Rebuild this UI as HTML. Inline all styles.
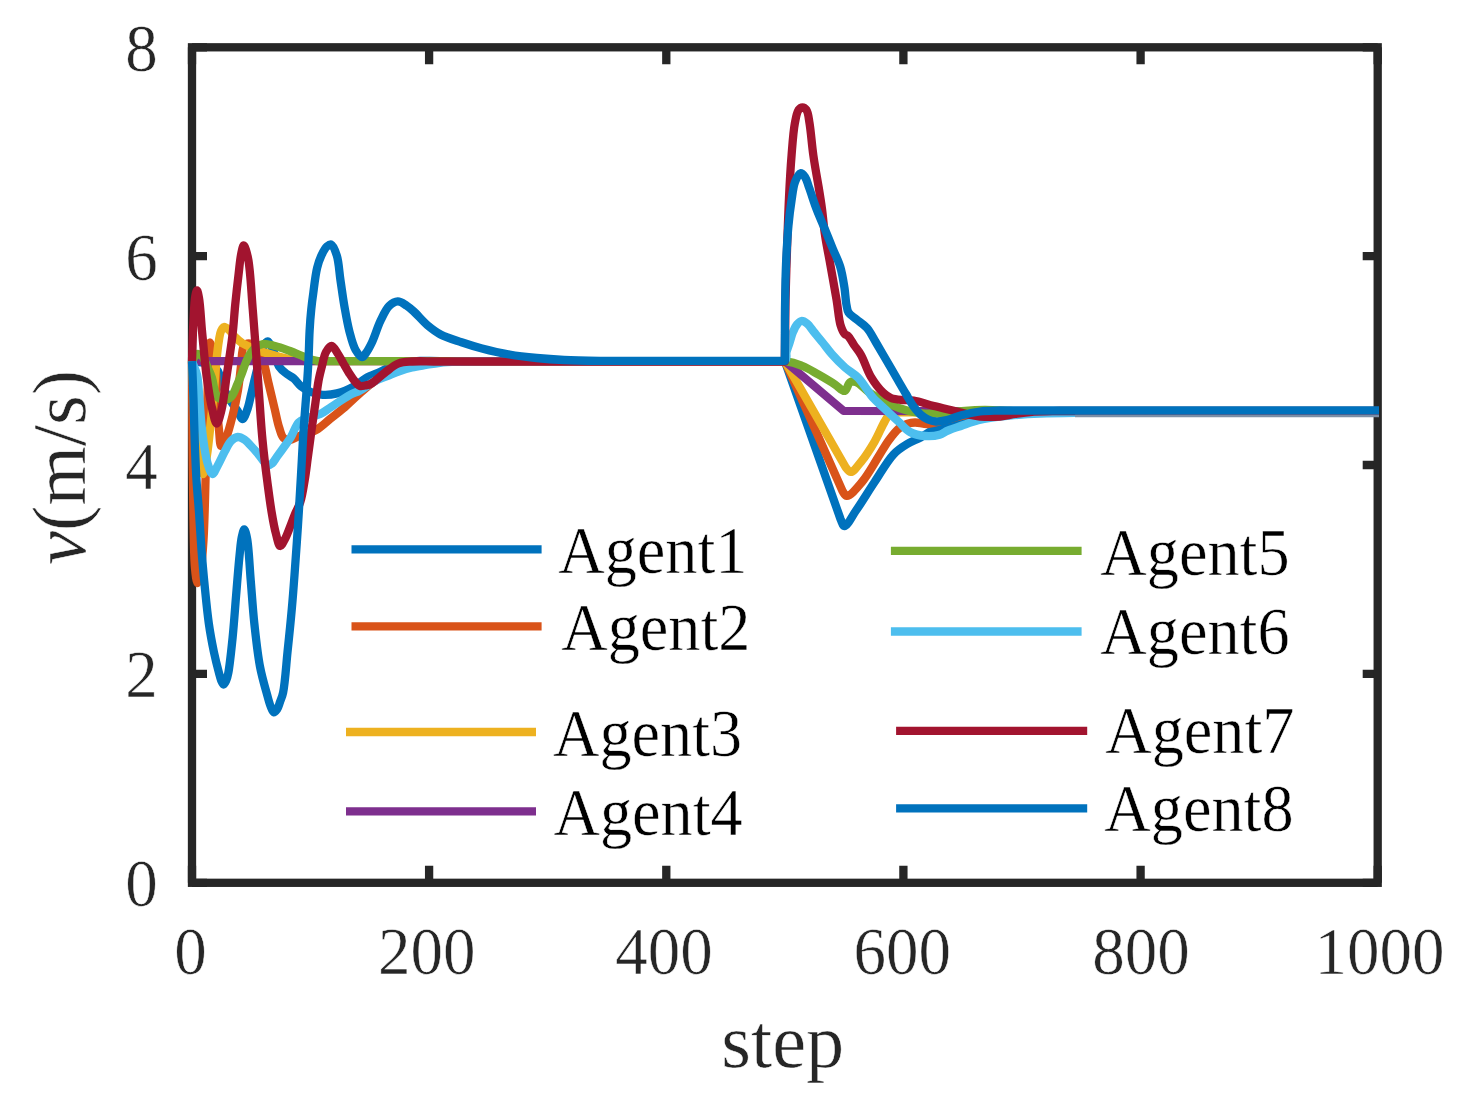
<!DOCTYPE html>
<html><head><meta charset="utf-8"><style>
html,body{margin:0;padding:0;background:#fff;overflow:hidden;}
text{stroke:#fff;stroke-width:0.5px;}
svg{display:block;}
</style></head><body>
<svg width="1463" height="1109" viewBox="0 0 1463 1109">
<rect x="0" y="0" width="1463" height="1109" fill="#ffffff"/>
<path d="M192.0,882.8 V865.8 M192.0,47.3 V64.3 M429.1,882.8 V865.8 M429.1,47.3 V64.3 M666.3,882.8 V865.8 M666.3,47.3 V64.3 M903.4,882.8 V865.8 M903.4,47.3 V64.3 M1140.6,882.8 V865.8 M1140.6,47.3 V64.3 M1377.7,882.8 V865.8 M1377.7,47.3 V64.3 M192.0,882.8 H207.0 M1377.7,882.8 H1362.7 M192.0,673.9 H207.0 M1377.7,673.9 H1362.7 M192.0,465.0 H207.0 M1377.7,465.0 H1362.7 M192.0,256.2 H207.0 M1377.7,256.2 H1362.7 M192.0,47.3 H207.0 M1377.7,47.3 H1362.7" stroke="#262626" stroke-width="8.3" fill="none"/>
<rect x="192.0" y="47.3" width="1185.7" height="835.5" fill="none" stroke="#262626" stroke-width="8.3" stroke-linejoin="miter"/>
<text transform="translate(190.6,973.5) scale(1,1.04)" text-anchor="middle" font-family="Liberation Serif" font-size="65" fill="#262626">0</text>
<text transform="translate(426.7,973.5) scale(1,1.04)" text-anchor="middle" font-family="Liberation Serif" font-size="65" fill="#262626">200</text>
<text transform="translate(664.0,973.5) scale(1,1.04)" text-anchor="middle" font-family="Liberation Serif" font-size="65" fill="#262626">400</text>
<text transform="translate(902.3,973.5) scale(1,1.04)" text-anchor="middle" font-family="Liberation Serif" font-size="65" fill="#262626">600</text>
<text transform="translate(1140.9,973.5) scale(1,1.04)" text-anchor="middle" font-family="Liberation Serif" font-size="65" fill="#262626">800</text>
<text transform="translate(1379.5,973.5) scale(1,1.04)" text-anchor="middle" font-family="Liberation Serif" font-size="65" fill="#262626">1000</text>
<text transform="translate(157.7,906.3) scale(1,1.04)" text-anchor="end" font-family="Liberation Serif" font-size="65" fill="#262626">0</text>
<text transform="translate(157.7,697.4) scale(1,1.04)" text-anchor="end" font-family="Liberation Serif" font-size="65" fill="#262626">2</text>
<text transform="translate(157.7,488.5) scale(1,1.04)" text-anchor="end" font-family="Liberation Serif" font-size="65" fill="#262626">4</text>
<text transform="translate(157.7,279.7) scale(1,1.04)" text-anchor="end" font-family="Liberation Serif" font-size="65" fill="#262626">6</text>
<text transform="translate(157.7,70.8) scale(1,1.04)" text-anchor="end" font-family="Liberation Serif" font-size="65" fill="#262626">8</text>
<text transform="translate(721.3,1066.9)" font-family="Liberation Serif" font-size="76.3" fill="#262626">step</text>
<text transform="translate(84.8,564.8) rotate(-90)" font-family="Liberation Serif" font-size="76.3" fill="#262626"><tspan font-style="italic">v</tspan>(m/s)</text>
<path d="M192.0,361.1 C196.3,361.7 201.2,362.0 205.0,363.0 C208.0,363.8 210.8,364.6 213.0,366.0 C215.0,367.3 216.7,368.8 218.0,371.0 C219.8,374.0 220.3,379.2 221.7,383.0 C223.0,386.5 224.5,390.0 226.0,393.0 C227.3,395.6 228.4,397.5 230.0,400.0 C232.0,403.2 235.2,407.2 237.4,410.5 C239.3,413.5 241.0,419.1 242.6,419.0 C244.3,418.9 246.2,412.7 247.5,409.0 C249.0,404.8 249.9,399.8 251.0,395.0 C252.2,390.1 253.2,385.2 254.5,380.0 C255.9,374.3 257.5,367.7 259.0,362.0 C260.4,356.8 261.1,350.6 263.0,347.0 C264.3,344.5 266.0,341.4 267.5,341.5 C269.3,341.6 271.3,346.6 273.0,350.0 C275.3,354.6 276.6,362.8 279.4,367.0 C281.5,370.2 284.4,372.0 287.0,374.0 C289.3,375.8 291.8,376.8 294.0,378.7 C296.5,380.8 298.3,384.0 301.0,386.2 C303.9,388.5 307.4,390.6 311.0,392.0 C314.6,393.5 318.6,394.5 322.7,394.8 C327.2,395.1 332.1,394.6 337.0,393.4 C342.6,392.0 349.4,389.0 354.5,386.2 C358.9,383.8 361.8,380.4 366.0,378.0 C370.4,375.5 375.9,373.8 380.4,371.7 C384.5,369.8 388.2,367.5 392.0,366.0 C395.4,364.7 398.1,363.8 402.0,363.0 C407.1,362.0 413.8,361.3 420.0,361.0 C426.5,360.7 429.3,361.1 440.0,361.1 L784.8,361.1 L840.5,519.0 C842.3,523.1 842.6,526.1 844.4,526.2 C847.1,526.4 851.6,517.0 855.7,511.0 C861.3,503.0 868.2,491.5 874.6,482.0 C880.9,472.6 887.3,460.9 893.6,454.3 C898.0,449.7 902.2,447.1 906.8,444.3 C911.2,441.6 916.1,439.9 920.5,437.5 C924.8,435.1 928.8,432.3 933.0,430.0 C937.0,427.8 940.7,425.8 945.0,424.0 C949.7,422.1 954.6,420.4 960.0,419.0 C966.1,417.4 972.6,416.0 980.0,415.0 C989.0,413.8 999.3,413.5 1010.0,413.0 C1022.4,412.5 1030.2,412.5 1050.0,412.3 L1379.0,412.3" stroke="#0072BD" stroke-width="8.3" fill="none" stroke-linejoin="round" stroke-linecap="butt"/>
<path d="M192.0,361.1 C192.2,387.4 192.3,413.6 192.5,440.0 C192.8,466.6 193.0,496.7 193.5,520.0 C193.9,538.0 193.9,556.6 195.0,568.0 C195.6,574.4 196.5,582.9 197.5,583.0 C198.4,583.0 199.7,576.7 200.5,572.0 C201.9,564.2 202.8,551.3 203.5,540.0 C204.3,527.4 204.6,513.3 205.0,500.0 C205.4,486.7 205.6,474.9 206.0,460.0 C206.5,441.0 206.8,415.5 207.5,395.0 C208.2,376.6 207.9,342.8 210.0,342.5 C210.9,342.4 212.6,348.2 213.5,352.0 C214.8,357.4 215.4,364.6 216.0,372.0 C216.7,381.2 216.3,393.0 216.8,403.0 C217.3,412.3 218.1,422.2 219.0,430.0 C219.7,436.0 219.7,445.7 221.2,446.0 C222.3,446.2 224.5,441.4 226.0,438.0 C228.4,432.6 230.6,423.7 232.5,416.0 C234.6,407.7 236.6,398.5 238.0,390.0 C239.4,381.9 240.0,373.6 241.0,366.0 C242.0,359.0 241.4,349.4 244.0,346.0 C245.5,344.1 248.1,343.1 250.0,343.5 C252.2,344.0 254.0,347.5 256.0,350.0 C258.3,352.9 260.8,355.8 262.7,360.0 C265.3,365.9 266.6,375.1 268.5,383.0 C270.5,391.3 272.7,400.8 274.6,408.6 C276.2,415.2 277.3,421.7 279.0,427.0 C280.4,431.2 281.2,435.9 283.5,438.0 C285.2,439.6 287.7,440.1 290.0,440.0 C292.8,439.8 295.5,437.4 299.0,436.0 C303.7,434.1 310.8,432.8 316.0,430.0 C321.1,427.2 325.3,422.8 330.0,419.0 C334.9,415.1 340.3,411.0 345.0,407.0 C349.3,403.3 352.7,399.8 357.0,396.0 C361.7,391.8 366.8,386.7 372.0,383.0 C376.9,379.5 382.1,376.4 387.0,374.0 C391.4,371.9 395.7,370.4 400.0,369.0 C404.1,367.6 407.6,366.5 412.0,365.5 C417.4,364.3 423.2,363.2 430.0,362.5 C438.7,361.6 444.7,361.5 460.0,361.1 L784.8,361.1 L842.5,491.0 C844.4,494.0 844.9,495.8 846.9,495.9 C850.4,496.1 857.2,487.7 862.0,482.0 C867.8,475.1 873.6,464.4 878.4,456.8 C882.3,450.6 885.3,445.0 889.0,440.0 C892.2,435.7 895.5,431.3 898.9,428.5 C901.5,426.3 904.2,425.0 907.0,424.0 C909.6,423.1 912.0,422.6 915.0,422.5 C918.7,422.4 923.2,424.2 927.7,424.0 C933.0,423.7 939.0,421.4 945.0,420.0 C951.4,418.5 957.9,416.6 965.0,415.5 C972.8,414.2 981.3,413.5 990.0,413.0 C999.5,412.4 1004.5,412.5 1020.0,412.3 L1379.0,412.3" stroke="#D95319" stroke-width="8.3" fill="none" stroke-linejoin="round" stroke-linecap="butt"/>
<path d="M192.0,361.1 C193.0,380.7 193.7,402.0 195.0,420.0 C196.1,435.2 197.0,452.3 199.0,462.0 C200.1,467.3 201.8,474.1 203.0,474.0 C204.5,473.9 205.8,462.3 207.0,455.0 C208.6,445.1 209.7,431.7 211.0,420.0 C212.2,408.3 213.5,395.7 214.5,385.0 C215.3,376.0 215.7,367.9 216.5,360.0 C217.2,353.0 218.1,345.3 219.0,340.0 C219.6,336.4 219.9,333.3 221.0,331.0 C221.8,329.3 222.7,327.2 224.0,327.0 C225.4,326.7 227.4,328.6 229.0,330.0 C231.1,331.7 232.8,334.8 235.0,337.0 C237.2,339.2 239.5,341.3 242.0,343.0 C244.5,344.6 247.2,345.7 250.0,347.0 C253.1,348.4 256.3,349.7 260.0,351.0 C264.5,352.6 270.0,354.2 275.0,355.5 C280.0,356.8 285.0,358.1 290.0,359.0 C295.0,359.9 296.5,360.5 305.0,361.1 L784.8,361.1 L845.5,467.0 C847.8,470.0 848.7,471.9 850.7,471.9 C853.8,471.9 858.3,465.1 862.0,460.6 C866.4,455.3 870.8,448.1 874.6,441.6 C878.4,435.1 881.7,426.5 884.7,421.5 C886.6,418.3 887.5,415.5 890.0,414.0 C892.6,412.4 894.1,412.8 900.0,412.3 L1379.0,412.3" stroke="#EDB120" stroke-width="8.3" fill="none" stroke-linejoin="round" stroke-linecap="butt"/>
<path d="M192.0,361.1 L784.8,361.1 L843.6,410.8 L1379.0,411.5" stroke="#7E2F8E" stroke-width="8.3" fill="none" stroke-linejoin="round" stroke-linecap="butt"/>
<path d="M192.0,361.1 C193.7,358.7 195.1,354.6 197.0,354.0 C198.5,353.6 200.5,354.7 202.0,356.0 C204.1,357.9 205.4,362.5 207.0,366.0 C208.7,369.8 210.7,373.8 212.0,378.0 C213.4,382.4 213.6,388.4 215.0,392.0 C216.0,394.5 216.9,396.7 218.5,398.0 C220.0,399.2 222.1,400.1 224.0,400.0 C226.2,399.9 229.0,398.9 231.0,397.0 C233.8,394.4 235.6,388.2 237.5,384.0 C239.2,380.2 240.6,376.7 242.0,373.0 C243.4,369.3 244.6,365.3 246.0,362.0 C247.3,359.1 248.4,356.4 250.0,354.0 C251.5,351.8 252.9,349.6 255.0,348.0 C257.2,346.2 260.0,344.5 263.0,344.0 C266.5,343.5 270.8,345.0 275.0,346.0 C279.8,347.2 285.0,349.2 290.0,351.0 C295.0,352.8 300.0,355.3 304.8,357.0 C309.3,358.6 310.3,359.9 318.0,361.1 L784.8,361.1 C794.8,362.5 796.9,363.7 802.5,366.0 C808.2,368.3 813.3,371.7 818.7,374.7 C824.1,377.8 830.2,381.4 834.9,384.4 C838.6,386.7 842.1,391.5 844.7,390.9 C847.1,390.4 847.8,383.6 850.0,382.3 C851.7,381.3 853.7,381.3 856.0,382.0 C859.9,383.2 864.7,389.5 870.0,393.0 C876.3,397.2 884.9,402.0 891.6,405.0 C897.1,407.5 902.0,409.1 907.0,410.5 C911.5,411.7 915.6,412.5 920.0,413.0 C924.6,413.5 929.2,413.6 934.0,413.5 C939.2,413.4 944.8,413.0 950.0,412.5 C955.1,412.1 959.6,411.2 965.0,410.8 C971.2,410.3 978.0,410.0 985.0,410.0 C992.9,410.0 1001.3,410.6 1010.0,411.0 C1019.5,411.4 1024.6,412.0 1040.0,412.3 L1379.0,412.3" stroke="#77AC30" stroke-width="8.3" fill="none" stroke-linejoin="round" stroke-linecap="butt"/>
<path d="M192.0,361.1 C193.7,365.7 195.8,369.6 197.0,375.0 C198.6,382.0 198.7,391.7 199.5,400.0 C200.2,408.3 200.7,417.1 201.5,425.0 C202.2,432.0 203.0,438.5 204.0,445.0 C205.0,451.2 205.9,457.8 207.5,463.0 C208.8,467.2 210.6,473.9 212.4,474.0 C214.1,474.1 216.1,468.4 218.0,465.0 C220.3,460.9 222.7,455.2 225.0,451.0 C227.0,447.3 228.6,443.4 231.0,441.0 C233.0,439.0 235.5,437.2 237.8,437.0 C240.1,436.8 242.8,438.6 245.0,440.0 C247.3,441.5 249.1,444.0 251.0,446.0 C252.9,448.0 254.7,449.9 256.5,452.0 C258.4,454.2 260.1,456.7 262.0,459.0 C263.8,461.2 265.6,465.1 267.5,465.5 C269.0,465.8 270.6,464.6 272.0,463.5 C273.8,462.0 275.2,459.1 277.0,456.6 C279.1,453.7 281.7,450.2 284.0,447.0 C286.2,443.9 288.4,441.3 290.6,437.7 C293.3,433.3 295.5,425.6 298.7,422.4 C300.9,420.2 303.1,419.7 306.0,418.5 C309.9,416.9 316.0,416.0 320.3,414.0 C324.3,412.1 327.1,409.6 331.2,407.0 C336.5,403.6 343.9,398.2 349.2,395.3 C353.2,393.1 356.2,392.5 360.0,390.5 C364.7,388.0 370.1,383.5 375.0,381.0 C379.3,378.8 383.5,377.7 387.7,376.0 C391.8,374.3 395.9,372.4 400.0,371.0 C404.0,369.6 407.8,368.5 412.0,367.5 C416.5,366.5 421.3,365.8 426.0,365.0 C430.7,364.2 434.9,363.4 440.0,362.8 C446.1,362.1 452.7,361.9 460.0,361.6 C469.0,361.3 474.8,361.2 490.0,361.1 L784.8,361.1 C787.9,358.5 785.7,355.0 786.5,352.0 C787.3,349.0 788.5,346.2 789.5,343.0 C790.6,339.5 791.6,335.3 793.0,332.0 C794.2,329.2 795.4,326.4 797.0,324.5 C798.3,322.9 799.8,321.2 801.4,321.0 C803.1,320.8 805.2,322.1 807.0,323.5 C809.5,325.4 811.8,329.4 814.4,332.5 C817.2,335.9 820.1,339.4 823.0,343.0 C825.9,346.6 828.4,350.2 831.7,354.0 C835.6,358.4 840.5,363.5 845.0,367.5 C849.2,371.2 854.1,373.7 857.9,377.5 C861.6,381.2 864.7,386.3 867.4,390.0 C869.5,392.9 870.6,395.1 873.0,397.8 C876.1,401.3 880.8,405.1 884.9,409.0 C889.4,413.2 894.5,418.0 898.9,422.0 C902.8,425.6 905.7,429.7 910.0,432.0 C914.4,434.4 920.0,435.6 925.0,436.0 C929.9,436.4 935.5,435.9 939.6,434.7 C942.8,433.8 944.7,431.9 947.8,430.6 C951.7,428.9 956.7,427.4 961.5,425.8 C966.7,424.0 972.7,421.7 978.0,420.3 C982.7,419.1 986.7,418.4 991.6,417.6 C997.3,416.7 1003.1,416.1 1010.0,415.5 C1018.8,414.7 1029.6,414.0 1040.0,413.6 C1051.2,413.1 1057.6,413.0 1075.0,412.8 L1379.0,412.8" stroke="#4DBEEE" stroke-width="8.3" fill="none" stroke-linejoin="round" stroke-linecap="butt"/>
<path d="M192.0,361.1 C192.5,347.4 192.8,331.9 193.5,320.0 C194.0,310.9 194.3,301.1 195.3,296.0 C195.8,293.5 196.4,290.5 197.0,290.5 C197.7,290.5 198.4,294.6 199.0,298.0 C200.3,305.1 200.9,319.1 202.0,331.0 C203.4,345.1 204.8,363.2 206.7,377.0 C208.3,388.4 210.0,399.5 212.0,408.0 C213.4,414.1 215.1,423.5 216.7,423.5 C218.2,423.5 220.1,415.6 221.5,410.0 C223.6,401.5 224.8,388.7 226.5,377.0 C228.4,363.8 231.0,347.8 232.5,335.0 C233.8,324.2 234.2,315.0 235.2,305.0 C236.2,295.0 237.4,284.0 238.5,275.0 C239.4,267.7 239.9,260.4 241.0,255.0 C241.8,251.2 242.7,245.5 243.8,245.5 C245.0,245.5 246.8,252.3 248.0,258.0 C250.4,269.3 251.2,290.9 252.8,310.0 C254.8,333.6 256.9,365.5 258.7,389.0 C260.1,407.9 260.9,423.7 262.5,440.0 C263.9,455.0 265.8,470.1 267.5,483.0 C268.9,493.6 270.1,503.0 271.6,512.0 C272.9,519.9 274.3,527.8 276.0,534.0 C277.3,538.7 278.5,545.8 280.2,546.0 C281.6,546.2 283.5,541.7 285.0,539.0 C286.8,535.6 288.4,531.1 290.0,527.0 C291.7,522.8 293.3,518.2 295.0,514.0 C296.7,509.9 298.8,506.7 300.3,502.0 C302.3,495.8 303.5,487.0 304.8,479.5 C306.1,472.0 306.8,464.8 307.9,457.0 C309.1,448.4 310.3,439.0 311.5,430.0 C312.8,421.0 314.2,411.5 315.4,403.0 C316.5,395.3 317.3,387.6 318.5,381.0 C319.5,375.5 320.7,370.9 322.0,366.0 C323.2,361.2 324.0,355.5 326.0,352.0 C327.5,349.4 329.7,345.9 331.6,346.0 C333.7,346.1 336.0,351.1 338.0,354.0 C340.1,357.1 341.8,360.8 343.7,364.0 C345.5,367.1 347.2,370.1 349.0,373.0 C350.8,375.8 352.6,378.7 354.6,381.0 C356.3,383.0 358.1,385.4 360.0,386.0 C361.6,386.5 363.3,385.8 365.0,385.5 C366.9,385.1 368.7,384.9 371.0,383.7 C374.8,381.7 380.1,376.2 384.7,372.8 C389.2,369.5 393.6,365.4 398.4,363.5 C402.8,361.8 406.6,361.9 412.0,361.5 C419.6,360.9 425.5,361.5 440.0,361.5 L784.8,361.5 L785.5,300.0 C785.9,282.5 786.4,266.8 787.0,250.0 C787.6,232.8 788.2,214.5 789.0,198.0 C789.7,183.0 790.5,168.3 791.6,155.0 C792.5,143.5 793.3,131.3 794.9,123.0 C795.9,117.7 796.7,112.6 798.5,110.0 C799.6,108.5 801.2,107.3 802.5,107.3 C803.8,107.3 805.4,108.5 806.5,110.0 C808.3,112.6 808.6,117.7 809.5,123.0 C810.9,131.3 811.8,144.3 813.3,155.0 C814.8,165.8 817.1,177.7 818.7,187.4 C820.0,195.3 821.0,201.5 822.0,209.0 C823.1,217.3 823.7,226.4 825.0,235.0 C826.2,243.4 827.8,250.7 829.5,260.0 C831.6,271.8 834.6,288.2 836.6,300.0 C838.2,309.3 838.6,318.8 840.5,325.0 C841.7,328.9 843.1,332.2 844.7,334.0 C845.7,335.1 846.9,334.9 848.0,336.0 C849.9,337.8 851.9,341.9 854.0,345.0 C856.2,348.3 858.7,350.9 861.0,355.0 C864.3,360.7 866.9,370.1 870.8,376.6 C874.4,382.6 879.3,389.1 883.3,392.8 C886.0,395.3 888.0,396.8 891.0,398.0 C894.4,399.4 899.1,399.6 903.0,400.0 C906.7,400.4 909.6,399.9 913.7,400.5 C919.4,401.4 927.2,404.3 934.0,406.0 C940.9,407.8 948.6,409.5 954.7,411.0 C959.6,412.2 963.7,413.6 968.0,414.5 C972.1,415.4 975.5,416.1 980.0,416.5 C985.8,417.0 993.8,417.0 1000.0,416.5 C1005.4,416.1 1010.0,414.8 1015.0,414.0 C1020.0,413.3 1024.1,412.5 1030.0,412.0 C1038.3,411.3 1044.7,411.3 1060.0,411.0 L1379.0,411.0" stroke="#A2142F" stroke-width="8.3" fill="none" stroke-linejoin="round" stroke-linecap="butt"/>
<path d="M1075.0,415.9 L1379.0,415.9" stroke="#7d8fa6" stroke-width="2.6" fill="none" stroke-linejoin="round" stroke-linecap="butt"/>
<path d="M192.0,361.1 C192.5,374.1 193.1,386.9 193.5,400.0 C194.0,413.2 194.2,426.7 194.7,440.0 C195.2,453.3 195.7,467.4 196.5,480.0 C197.2,491.3 198.2,500.9 199.0,512.0 C199.9,524.1 200.6,537.9 201.5,550.0 C202.4,561.1 203.2,570.7 204.3,582.0 C205.6,594.9 207.0,610.8 208.8,623.3 C210.3,633.8 212.1,643.2 213.9,652.0 C215.5,659.6 217.6,667.8 219.0,673.0 C219.8,676.1 220.3,678.4 221.2,680.5 C221.9,682.1 222.7,684.5 223.5,684.5 C224.3,684.5 225.3,682.5 226.0,681.0 C227.0,678.9 227.6,676.7 228.3,673.0 C229.8,665.4 231.3,650.1 232.6,637.7 C234.0,624.0 235.0,608.4 236.2,594.4 C237.3,581.2 238.4,566.6 239.5,556.0 C240.3,548.6 240.7,541.8 241.8,537.0 C242.5,533.9 243.4,529.5 244.2,529.5 C245.1,529.5 246.2,534.0 247.0,538.0 C248.8,546.6 249.5,565.9 250.7,580.0 C251.9,594.3 252.8,608.9 254.3,623.3 C255.9,637.8 257.5,653.7 260.0,666.6 C262.0,677.2 265.3,688.2 267.3,695.4 C268.5,699.8 269.3,703.0 270.5,706.0 C271.5,708.4 272.5,712.1 273.8,712.3 C274.8,712.5 276.3,710.4 277.3,709.0 C278.5,707.2 279.1,704.5 280.0,702.0 C281.0,699.1 282.2,696.9 283.1,692.6 C285.0,683.9 286.1,665.9 287.5,652.2 C289.0,638.0 290.6,622.5 291.8,608.9 C292.9,596.9 293.6,587.4 294.5,575.0 C295.6,559.9 296.9,541.7 298.0,525.0 C299.1,508.3 300.0,491.2 301.0,475.0 C301.9,459.6 302.6,444.6 303.6,430.0 C304.5,416.0 305.8,401.5 306.7,389.0 C307.4,378.5 308.0,369.7 308.5,360.0 C309.0,350.3 309.1,339.9 309.6,331.0 C310.0,323.4 310.5,316.6 311.2,310.0 C311.8,304.0 312.4,299.2 313.3,293.0 C314.3,285.5 315.4,274.9 317.1,268.0 C318.3,263.0 319.7,259.0 321.5,255.2 C323.1,251.9 325.0,248.1 327.0,246.4 C328.3,245.3 329.7,244.1 331.0,244.5 C333.1,245.2 335.2,250.7 336.7,255.2 C338.9,261.7 339.2,272.1 340.5,280.5 C341.8,288.9 342.8,297.3 344.3,305.7 C345.8,314.1 347.3,323.2 349.3,331.0 C351.1,337.8 352.9,345.4 355.6,350.0 C357.5,353.2 360.1,357.2 362.0,357.2 C363.5,357.2 364.7,354.8 366.0,353.0 C367.9,350.4 369.8,346.8 371.8,342.7 C374.6,336.9 377.3,327.5 380.4,321.0 C383.1,315.4 385.7,309.3 389.1,306.0 C391.7,303.5 394.9,301.5 397.8,301.4 C400.7,301.3 403.7,303.8 406.4,305.5 C409.0,307.2 411.0,308.9 413.7,311.4 C417.6,314.9 422.6,321.1 427.3,325.1 C431.7,328.8 435.8,332.0 441.0,334.7 C447.0,337.8 454.6,339.9 461.5,342.2 C468.3,344.5 474.6,346.5 482.0,348.4 C490.4,350.6 500.2,352.9 509.4,354.5 C518.5,356.1 527.6,357.1 536.7,358.0 C545.8,358.9 554.3,359.5 564.0,360.0 C575.2,360.5 583.3,360.6 600.0,360.8 L784.8,360.8 L784.9,319.0 C785.0,305.8 785.2,291.7 785.5,280.0 C785.8,270.5 786.0,262.9 786.5,254.0 C787.0,244.6 787.6,234.3 788.5,225.0 C789.3,216.3 790.4,207.6 791.6,200.0 C792.6,193.5 793.2,186.8 795.0,182.0 C796.4,178.4 798.4,173.6 800.3,173.3 C801.8,173.0 803.7,175.2 805.0,177.0 C806.8,179.4 807.5,183.3 809.0,187.4 C811.2,193.3 813.9,202.2 816.5,209.0 C818.9,215.3 821.4,220.7 824.0,227.0 C826.8,233.9 830.0,241.8 832.8,248.7 C835.4,255.1 838.4,260.6 840.3,267.0 C842.3,273.7 843.4,281.3 844.5,288.0 C845.4,293.9 845.6,300.5 846.5,305.0 C847.1,308.0 847.1,310.3 848.5,312.5 C850.1,315.1 853.4,316.8 856.2,319.2 C859.5,322.0 863.8,324.4 867.0,328.0 C870.4,331.9 872.9,337.4 875.7,342.0 C878.3,346.4 880.8,350.7 883.3,355.0 C885.8,359.3 888.4,363.7 890.9,368.0 C893.4,372.3 895.9,376.7 898.4,381.0 C900.9,385.3 903.4,389.7 906.0,394.0 C908.5,398.2 910.9,402.8 913.6,406.5 C916.0,409.7 918.4,412.8 921.0,415.0 C923.2,416.9 925.5,418.4 928.0,419.5 C930.5,420.6 933.1,421.3 936.0,421.5 C939.4,421.7 943.1,420.9 947.0,420.0 C951.5,418.9 956.3,416.6 961.5,415.2 C967.2,413.7 973.7,412.3 980.0,411.5 C986.5,410.7 989.2,410.8 1000.0,410.5 L1379.0,410.3" stroke="#0072BD" stroke-width="8.3" fill="none" stroke-linejoin="round" stroke-linecap="butt"/>
<path d="M351.5,549.4 H541.6" stroke="#0072BD" stroke-width="8.3" fill="none"/>
<text transform="translate(558.2,573.0) scale(1,1.052)" font-family="Liberation Serif" font-size="64.3" fill="#000">Agent1</text>
<path d="M351.5,626.3 H541.6" stroke="#D95319" stroke-width="8.3" fill="none"/>
<text transform="translate(561.2,650.0) scale(1,1.052)" font-family="Liberation Serif" font-size="64.3" fill="#000">Agent2</text>
<path d="M346.0,732.0 H536.0" stroke="#EDB120" stroke-width="8.3" fill="none"/>
<text transform="translate(553.0,756.0) scale(1,1.052)" font-family="Liberation Serif" font-size="64.3" fill="#000">Agent3</text>
<path d="M346.0,811.4 H536.0" stroke="#7E2F8E" stroke-width="8.3" fill="none"/>
<text transform="translate(553.5,834.5) scale(1,1.052)" font-family="Liberation Serif" font-size="64.3" fill="#000">Agent4</text>
<path d="M890.9,550.9 H1081.6" stroke="#77AC30" stroke-width="8.3" fill="none"/>
<text transform="translate(1100.3,575.2) scale(1,1.052)" font-family="Liberation Serif" font-size="64.3" fill="#000">Agent5</text>
<path d="M890.9,631.5 H1081.6" stroke="#4DBEEE" stroke-width="8.3" fill="none"/>
<text transform="translate(1100.3,653.6) scale(1,1.052)" font-family="Liberation Serif" font-size="64.3" fill="#000">Agent6</text>
<path d="M896.1,730.9 H1087.2" stroke="#A2142F" stroke-width="8.3" fill="none"/>
<text transform="translate(1105.2,753.0) scale(1,1.052)" font-family="Liberation Serif" font-size="64.3" fill="#000">Agent7</text>
<path d="M896.1,808.4 H1087.2" stroke="#0072BD" stroke-width="8.3" fill="none"/>
<text transform="translate(1104.3,831.4) scale(1,1.052)" font-family="Liberation Serif" font-size="64.3" fill="#000">Agent8</text>
</svg>
</body></html>
